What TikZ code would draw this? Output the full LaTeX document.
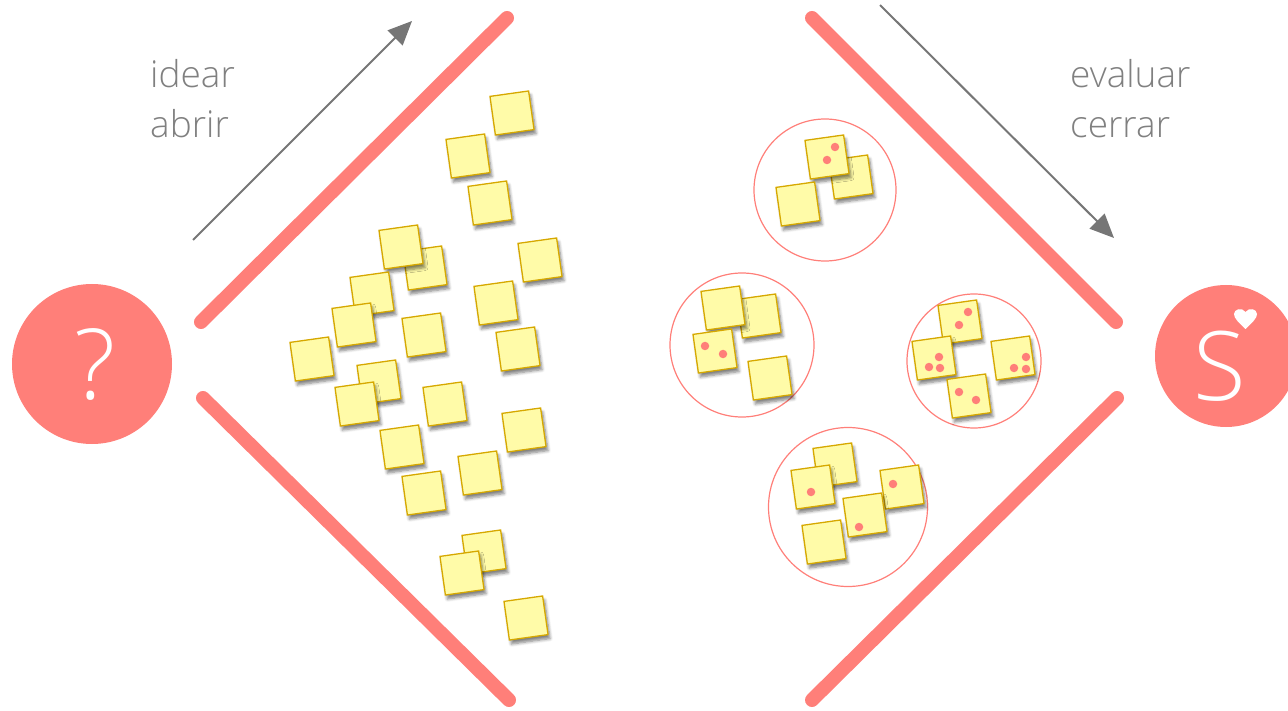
\documentclass[tikz,border=0pt]{standalone}
\usepackage{fontspec}
\setmainfont{Open Sans}
\newfontfamily\lightfont{Open Sans Light}
\usetikzlibrary{arrows.meta,shadows.blur}
\definecolor{salmon}{RGB}{255,127,121}
\definecolor{notefill}{RGB}{255,251,168}
\definecolor{noteedge}{RGB}{214,168,0}
\definecolor{arrowgray}{RGB}{118,118,118}
\definecolor{textgray}{RGB}{128,128,128}
\tikzset{
  note/.style={draw=noteedge, fill=notefill, line width=1.3pt, minimum size=39pt, inner sep=0pt, rotate=8,
    blur shadow={shadow xshift=2pt, shadow yshift=-4pt, shadow blur radius=3pt, shadow blur steps=6, shadow opacity=50}},
  reddot/.style={circle, fill=salmon, inner sep=0pt, minimum size=8.5pt},
  cluster/.style={circle, draw=salmon, line width=1.2pt, inner sep=0pt},
  funnel/.style={draw=salmon, line width=14pt, line cap=round},
  flow/.style={draw=arrowgray, line width=2pt, -{Triangle[length=24pt,width=21pt]}},
  phase/.style={font=\lightfont\fontsize{37}{44}\selectfont, text=textgray, inner sep=0pt, anchor=base west},
  badge/.style={circle, fill=salmon, inner sep=0pt},
  glyph/.style={text=white, inner sep=0pt}
}
\begin{document}
\begin{tikzpicture}[x=1pt,y=-1pt]
  \useasboundingbox (0,0) rectangle (1288,711);
  % funnel walls
  \draw[funnel] (201,322) -- (507,18);
  \draw[funnel] (203,398) -- (509,700);
  \draw[funnel] (812,18) -- (1116,322);
  \draw[funnel] (812,700) -- (1117,398);
  % direction arrows and labels
  \coordinate (a0) at (193,240); \coordinate (a1) at (412,21);
  \coordinate (b0) at (880,5); \coordinate (b1) at (1114,238);
  \draw[flow] (a0) -- (a1);
  \draw[flow] (b0) -- (b1);
  \node[phase] (idear) at (150,88) {idear};
  \node[phase] (abrir) at (150,138) {abrir};
  \node[phase] (evaluar) at (1070,88) {evaluar};
  \node[phase] (cerrar) at (1070,138) {cerrar};
  % start and end badges
  \node[badge, minimum size=160pt] (ask) at (92,364) {};
  \node[glyph, font=\lightfont\fontsize{98}{98}\selectfont] (qm) at (95,364) {?};
  \node[badge, minimum size=142pt] (sol) at (1226,356) {};
  \node[glyph, font=\lightfont\fontsize{96}{96}\selectfont] (sig) at (1220,366) {S};
  \fill[white] (1245.5,329) .. controls (1238,322) and (1234,318) .. (1234,314)
    .. controls (1234,309) and (1242,307) .. (1245.5,312)
    .. controls (1249,307) and (1257,309) .. (1257,314)
    .. controls (1257,318) and (1253,322) .. (1245.5,329) -- cycle;
  % divergent ideas
  \foreach \x/\y [count=\k] in {512/113, 468/156, 490/203, 540/260, 425/268, 401/247, 372/294,
      354/325, 424/335, 496/303, 518/349, 312/359, 379/382, 357/404, 445/404, 402/447,
      524/430, 480/473, 424/493, 484/552, 462/573, 526/618}
    \node[note] (L\k) at (\x,\y) {};
  % convergent groups
  \node[cluster, minimum size=142pt] (c1) at (825,190) {};
  \node[cluster, minimum size=144pt] (c2) at (742,345) {};
  \node[cluster, minimum size=134pt] (c3) at (974,361) {};
  \node[cluster, minimum size=159pt] (c4) at (848,507) {};
  \foreach \x/\y [count=\k] in {851/177, 827/157, 798/204}
    \node[note] (A\k) at (\x,\y) {};
  \foreach \x/\y [count=\k] in {759/316, 723/308, 715/351, 770/378}
    \node[note] (B\k) at (\x,\y) {};
  \foreach \x/\y [count=\k] in {960/322, 934/358, 1013/358, 969/396}
    \node[note] (C\k) at (\x,\y) {};
  \foreach \x/\y [count=\k] in {835/465, 813/487, 902/487, 865/515, 824/542}
    \node[note] (D\k) at (\x,\y) {};
  % votes
  \foreach \x/\y [count=\k] in {835/147, 827/160, 705/346, 723/354, 968/312, 959/325,
      939/357, 929/367, 940/368, 1026/357, 1014/368, 1026/369, 959/392, 976/400,
      811/492, 893/484, 859/527}
    \node[reddot] (v\k) at (\x,\y) {};
\end{tikzpicture}
\end{document}
